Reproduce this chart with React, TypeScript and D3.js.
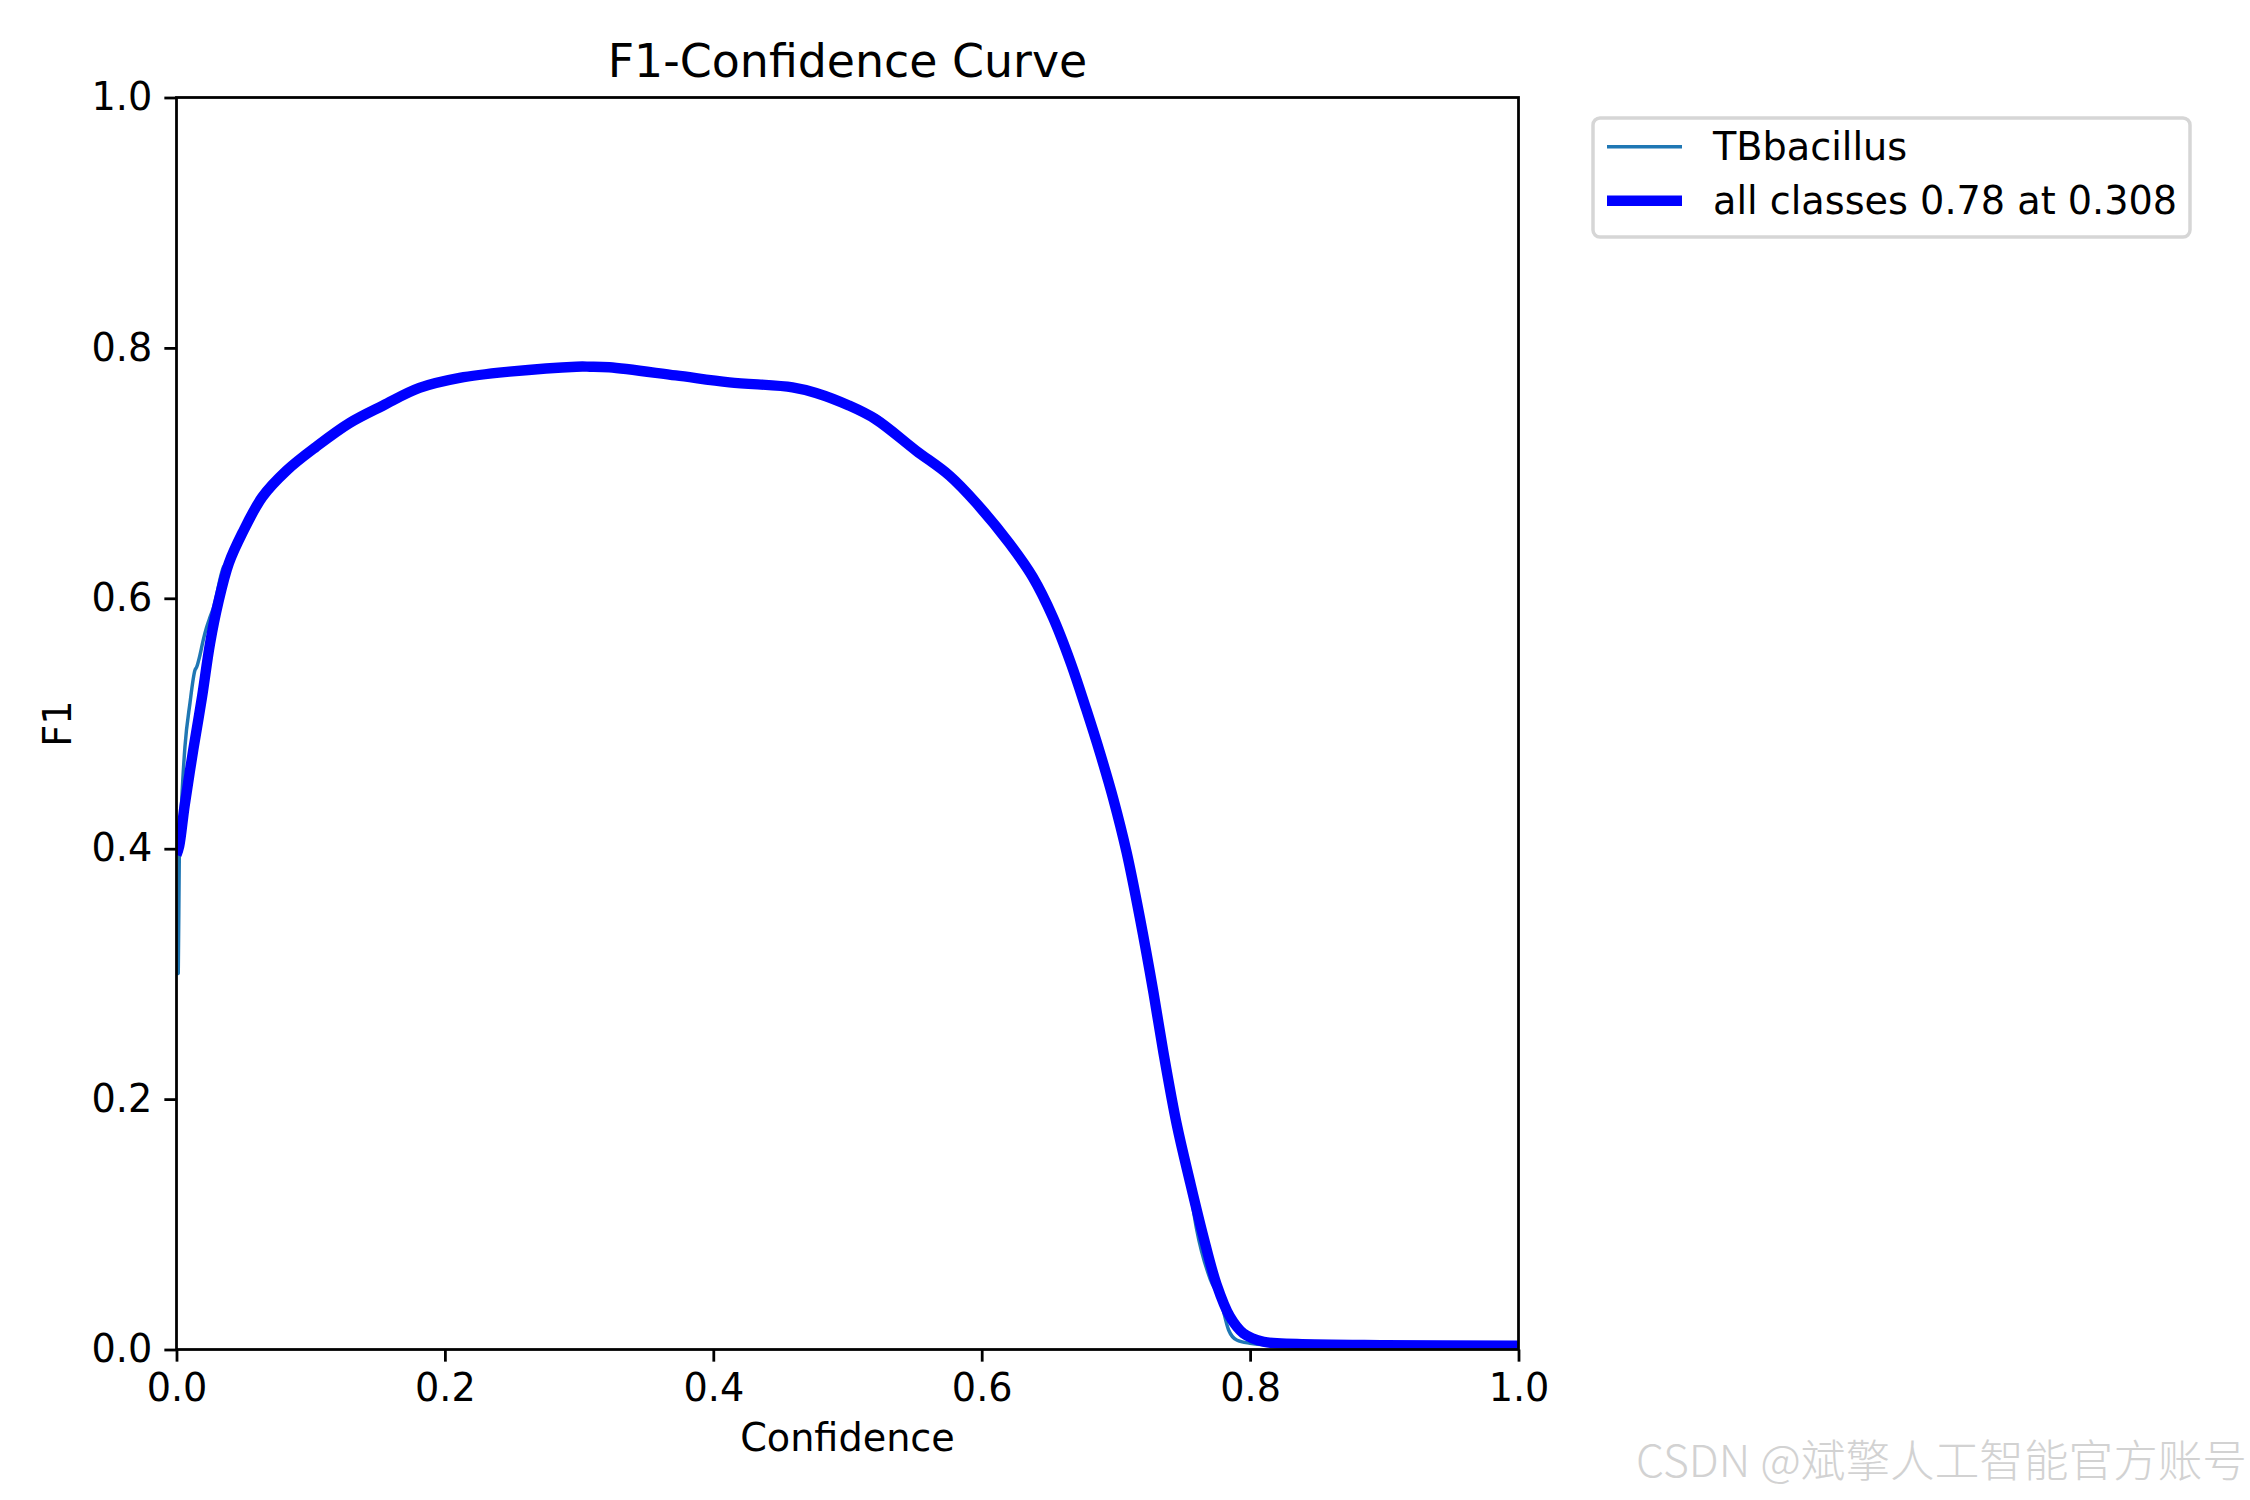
import React, { useEffect, useRef } from "react";
import * as d3 from "d3";

// confidence / F1 readings for the "all classes" curve
const allConf = [
  0.0, 0.002, 0.006, 0.0125, 0.019, 0.025, 0.031, 0.039, 0.049, 0.064, 0.082,
  0.104, 0.129, 0.154, 0.181, 0.211, 0.248, 0.298, 0.308, 0.3225, 0.372, 0.412,
  0.459, 0.4765, 0.501, 0.521, 0.551, 0.576, 0.596, 0.6205, 0.638, 0.653,
  0.6665, 0.678, 0.688, 0.698, 0.708, 0.718, 0.728, 0.7353, 0.7453, 0.7552,
  0.7651, 0.775, 0.785, 0.795, 0.81, 0.835, 0.9, 1.0,
];
const allF1 = [
  0.395, 0.402, 0.434, 0.479, 0.521, 0.564, 0.596, 0.628, 0.652, 0.681, 0.702,
  0.721, 0.74, 0.754, 0.768, 0.776, 0.781, 0.785, 0.785, 0.7845, 0.778, 0.7725,
  0.7685, 0.764, 0.754, 0.743, 0.718, 0.698, 0.676, 0.644, 0.617, 0.585, 0.548,
  0.511, 0.477, 0.44, 0.397, 0.344, 0.285, 0.238, 0.18, 0.134, 0.0905, 0.052,
  0.0262, 0.0129, 0.0062, 0.0045, 0.0035, 0.003,
];

// per-class curve (TBbacillus)
const clsConf = [
  0.0, 0.0013, 0.0021, 0.0039, 0.0063, 0.01, 0.0138, 0.015, 0.0175, 0.02,
  0.0225, 0.025, 0.0274, 0.035, 0.039, 0.049, 0.064, 0.082, 0.104, 0.129,
  0.154, 0.181, 0.211, 0.248, 0.298, 0.308, 0.3225, 0.372, 0.412, 0.459,
  0.4765, 0.501, 0.521, 0.551, 0.576, 0.596, 0.6205, 0.638, 0.653, 0.6665,
  0.678, 0.688, 0.698, 0.708, 0.718, 0.728, 0.7353, 0.7453, 0.7552, 0.76,
  0.7705, 0.7779, 0.784, 0.79, 0.8, 0.81, 0.835, 0.9, 1.0,
];
const clsF1 = [
  0.3, 0.3005, 0.396, 0.439, 0.4815, 0.516, 0.5427, 0.545, 0.5547, 0.567,
  0.577, 0.585, 0.592, 0.625, 0.63, 0.653, 0.682, 0.702, 0.721, 0.74, 0.754,
  0.768, 0.776, 0.781, 0.785, 0.785, 0.7845, 0.778, 0.7725, 0.7685, 0.764,
  0.754, 0.746, 0.718, 0.7, 0.676, 0.644, 0.619, 0.585, 0.548, 0.511, 0.479,
  0.44, 0.397, 0.344, 0.285, 0.238, 0.18, 0.128, 0.097, 0.0556, 0.0396,
  0.0156, 0.0076, 0.005, 0.004, 0.004, 0.003, 0.003,
];

const xTicks = [0.0, 0.2, 0.4, 0.6, 0.8, 1.0];
const yTicks = [0.0, 0.2, 0.4, 0.6, 0.8, 1.0];

const seriesNames = ["TBbacillus", "all classes 0.78 at 0.308"];
const seriesColors = ["#1f77b4", "#0000ff"];

const title = "F1-Confidence Curve";
const xLabel = "Confidence";
const yLabel = "F1";
const watermark = "CSDN @斌擎人工智能官方账号";

export default function App() {
  const svgRef = useRef<SVGSVGElement | null>(null);

  useEffect(() => {
    if (!svgRef.current) return;
    const root = d3.select(svgRef.current);
    root.selectAll("*").remove();

    const W = 2250;
    const H = 1500;
    const pt = 250 / 72; // px per point
    const fs = 38.2;
    const font = "DejaVu Sans, sans-serif";

    const left = 176.5;
    const right = 1518.5;
    const top = 97.5;
    const bottom = 1349.5;

    root.attr("width", W).attr("height", H);
    root.append("rect").attr("width", W).attr("height", H).attr("fill", "#fff");

    const x = d3.scaleLinear().domain([0, 1]).range([left, right]);
    const y = d3.scaleLinear().domain([0, 1]).range([bottom, top]);

    root
      .append("defs")
      .append("clipPath")
      .attr("id", "plot-clip")
      .append("rect")
      .attr("x", left)
      .attr("y", top)
      .attr("width", right - left)
      .attr("height", bottom - top);

    const clsLine = d3
      .line<[number, number]>()
      .x((d) => x(d[0]))
      .y((d) => y(d[1]))
      .curve(d3.curveMonotoneX);

    const allLine = d3
      .line<[number, number]>()
      .x((d) => x(d[0]))
      .y((d) => y(d[1]))
      .curve(d3.curveCatmullRom.alpha(0.5));

    const plot = root.append("g").attr("clip-path", "url(#plot-clip)");

    plot
      .append("path")
      .datum(clsConf.map((c, i) => [c, clsF1[i]] as [number, number]))
      .attr("fill", "none")
      .attr("stroke", seriesColors[0])
      .attr("stroke-width", 1 * pt)
      .attr("stroke-linejoin", "round")
      .attr("d", clsLine);

    plot
      .append("path")
      .datum(allConf.map((c, i) => [c, allF1[i]] as [number, number]))
      .attr("fill", "none")
      .attr("stroke", seriesColors[1])
      .attr("stroke-width", 3 * pt)
      .attr("stroke-linejoin", "round")
      .attr("d", allLine);

    // axes
    const tickLen = 3.5 * pt;
    const xAxis = root
      .append("g")
      .attr("transform", `translate(0,${bottom})`)
      .call(
        d3
          .axisBottom(x)
          .tickValues(xTicks)
          .tickSize(tickLen)
          .tickSizeOuter(0)
          .tickPadding(tickLen)
          .tickFormat(d3.format(".1f"))
      );
    const yAxis = root
      .append("g")
      .attr("transform", `translate(${left},0)`)
      .call(
        d3
          .axisLeft(y)
          .tickValues(yTicks)
          .tickSize(tickLen)
          .tickSizeOuter(0)
          .tickPadding(tickLen)
          .tickFormat(d3.format(".1f"))
      );
    [xAxis, yAxis].forEach((g) => {
      g.select(".domain").remove();
      g.selectAll("line").attr("stroke", "#000").attr("stroke-width", 0.8 * pt);
      g.selectAll("text")
        .attr("fill", "#000")
        .style("font-family", font)
        .style("font-size", `${fs}px`);
    });

    root
      .append("rect")
      .attr("x", left)
      .attr("y", top)
      .attr("width", right - left)
      .attr("height", bottom - top)
      .attr("fill", "none")
      .attr("stroke", "#000")
      .attr("stroke-width", 0.8 * pt);

    // title and labels
    root
      .append("text")
      .attr("x", (left + right) / 2)
      .attr("y", top - 6 * pt)
      .attr("text-anchor", "middle")
      .style("font-family", font)
      .style("font-size", `${fs * 1.2}px`)
      .text(title);

    root
      .append("text")
      .attr("x", (left + right) / 2)
      .attr("y", 1451)
      .attr("text-anchor", "middle")
      .style("font-family", font)
      .style("font-size", `${fs}px`)
      .text(xLabel);

    root
      .append("text")
      .attr("transform", `translate(71,${(top + bottom) / 2}) rotate(-90)`)
      .attr("text-anchor", "middle")
      .style("font-family", font)
      .style("font-size", `${fs}px`)
      .text(yLabel);

    // legend
    const lg = root.append("g");
    lg.append("rect")
      .attr("x", 1593)
      .attr("y", 118)
      .attr("width", 597)
      .attr("height", 119)
      .attr("rx", 7)
      .attr("fill", "#fff")
      .attr("stroke", "#d6d6d6")
      .attr("stroke-width", 1 * pt);
    const rows = [146.7, 200.7];
    seriesNames.forEach((name, i) => {
      lg.append("line")
        .attr("x1", 1607)
        .attr("x2", 1682)
        .attr("y1", rows[i])
        .attr("y2", rows[i])
        .attr("stroke", seriesColors[i])
        .attr("stroke-width", (i === 0 ? 1 : 3) * pt);
      lg.append("text")
        .attr("x", 1713)
        .attr("y", rows[i])
        .attr("dy", "0.36em")
        .style("font-family", font)
        .style("font-size", `${fs}px`)
        .text(name);
    });

    // watermark
    root
      .append("text")
      .attr("x", 1636)
      .attr("y", 1477)
      .attr("textLength", 611)
      .attr("lengthAdjust", "spacingAndGlyphs")
      .attr("fill", "#d2d2d2")
      .style("font-family", "'Noto Sans CJK SC', sans-serif")
      .style("font-weight", 300)
      .style("font-size", "44px")
      .text(watermark);
  }, []);

  return (
    <div style={{ position: "absolute", left: 0, top: 0 }}>
      <svg ref={svgRef} style={{ display: "block" }}></svg>
    </div>
  );
}
